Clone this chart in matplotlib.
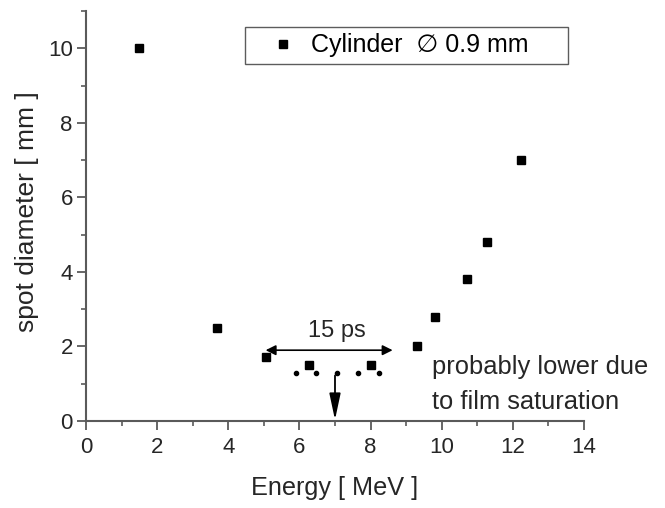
import numpy as np
import matplotlib
matplotlib.use('Agg')
import matplotlib.pyplot as plt
from matplotlib.ticker import MultipleLocator

plt.rcParams['font.family'] = ['Liberation Sans', 'DejaVu Sans']

# data
energy = [1.5, 3.67, 5.07, 6.26, 8.0, 9.3, 9.8, 10.7, 11.26, 12.23]
spot = [10.0, 2.5, 1.72, 1.5, 1.5, 2.0, 2.8, 3.8, 4.8, 7.0]

dots_x = [5.89, 6.48, 7.06, 7.65, 8.23]
dots_y = [1.28, 1.28, 1.28, 1.28, 1.28]

text_c = '#262626'
axis_c = '#5a5a5a'

fig = plt.figure(figsize=(6.65, 5.08), dpi=100)
ax = fig.add_axes([0.1293, 0.1713, 0.7489, 0.8067])

ax.plot(energy, spot, 's', color='black', markersize=5.5, linestyle='none',
        label='Cylinder  \u2205 0.9 mm')
ax.plot(dots_x, dots_y, 'o', color='black', markersize=3.0, linestyle='none')

# 15 ps double arrow
ax.annotate('', xy=(5.05, 1.9), xytext=(8.62, 1.9),
            arrowprops=dict(arrowstyle='<|-|>,head_length=0.5,head_width=0.25',
                            color='black', lw=1.2, mutation_scale=12,
                            shrinkA=0, shrinkB=0))
ax.text(7.05, 2.12, '15 ps', ha='center', va='bottom', fontsize=17, color=text_c)

# down arrow
ax.annotate('', xy=(7.0, 0.03), xytext=(7.0, 1.22),
            arrowprops=dict(arrowstyle='-|>,head_length=0.8,head_width=0.17',
                            color='black', lw=1.3, mutation_scale=20,
                            shrinkA=0, shrinkB=0))

ax.text(9.72, 1.45, 'probably lower due', ha='left', va='center',
        fontsize=18.4, color=text_c)
ax.text(9.72, 0.52, 'to film saturation', ha='left', va='center',
        fontsize=18.4, color=text_c)

ax.set_xlim(0, 14)
ax.set_ylim(0, 11)
ax.xaxis.set_major_locator(MultipleLocator(2))
ax.xaxis.set_minor_locator(MultipleLocator(1))
ax.yaxis.set_major_locator(MultipleLocator(2))
ax.yaxis.set_minor_locator(MultipleLocator(1))
ax.set_yticks(np.arange(0, 11, 2))

for side in ['top', 'right']:
    ax.spines[side].set_visible(False)
for side in ['left', 'bottom']:
    ax.spines[side].set_color(axis_c)
    ax.spines[side].set_linewidth(1.5)

ax.tick_params(which='major', direction='out', length=6.5, width=1.3,
               color=axis_c, labelsize=16, labelcolor=text_c)
ax.tick_params(which='minor', direction='out', length=3.5, width=1.2, color=axis_c)
ax.tick_params(axis='x', which='major', pad=5)
ax.tick_params(axis='y', which='major', pad=3)

ax.set_xlabel('Energy [ MeV ]', fontsize=18.2, color=text_c)
ax.set_ylabel('spot diameter [ mm ]', fontsize=19, color=text_c)
ax.xaxis.set_label_coords(0.5, -0.135)
ax.yaxis.set_label_coords(-0.094, 0.512)

leg = ax.legend(loc='upper left', bbox_to_anchor=(0.3193, 0.5, 0.6486, 0.461),
                mode='expand', fontsize=18, frameon=True, fancybox=False,
                edgecolor='#333333', handletextpad=-0.16, borderpad=0.25,
                handlelength=2.56, borderaxespad=0)
leg.get_frame().set_linewidth(1.0)

fig.savefig('out.png', dpi=100, facecolor='white')
